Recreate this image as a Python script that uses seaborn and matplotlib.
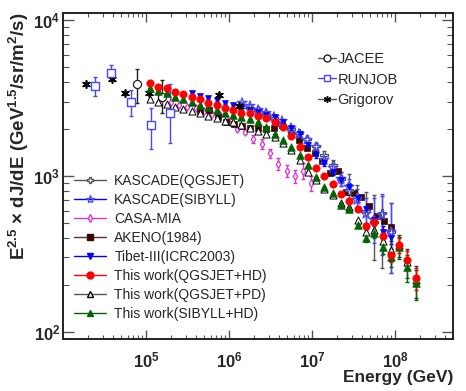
import numpy as np
import pandas as pd
import matplotlib
matplotlib.use("Agg")
import matplotlib.pyplot as plt
from matplotlib.lines import Line2D
import seaborn as sns

# ---------------- data ----------------
# This work: energies every 0.1 decade from 10^5.05 to 10^8.25 GeV
work_E = [1.122e5, 1.413e5, 1.778e5, 2.239e5, 2.818e5, 3.548e5, 4.467e5, 5.623e5, 7.079e5, 8.913e5,
          1.122e6, 1.413e6, 1.778e6, 2.239e6, 2.818e6, 3.548e6, 4.467e6, 5.623e6, 7.079e6, 8.913e6,
          1.122e7, 1.413e7, 1.778e7, 2.239e7, 2.818e7, 3.548e7, 4.467e7, 5.623e7, 7.079e7, 8.913e7,
          1.122e8, 1.413e8, 1.778e8]
qgs_hd = [3950, 3720, 3670, 3460, 3350, 3210, 3120, 2940, 2850, 2730,
          2650, 2530, 2530, 2420, 2350, 2220, 2060, 1800, 1530, 1320,
          1120, 1000, 890, 770, 690, 610, 480, 510, 410, 310,
          360, 290, 220]
qgs_hd_err = [0] * 26 + [15, 20, 25, 30, 40, 40, 35]
qgs_pd = [3120, 2980, 2890, 2770, 2690, 2610, 2530, 2420, 2350, 2250,
          2220, 2120, 2030, 1940, 1860, 1780, 1630, 1470, 1270, 1060,
          940, 830, 755, 670, 630, 520, 440, 450, 380, 335,
          360, 280, 215]
qgs_pd_err = [0] * 26 + [20, 30, 40, 50, 60, 60, 50]
sib_hd = [3670, 3510, 3400, 3210, 3120, 2980, 2850, 2770, 2650, 2530,
          2460, 2390, 2320, 2220, 2060, 1860, 1700, 1530, 1360, 1180,
          985, 850, 780, 650, 610, 485, 400, 430, 350, 300,
          350, 260, 205]
sib_hd_err = [0] * 26 + [25, 30, 35, 40, 55, 50, 45]

tibet_E = work_E[5:30]
tibet_F = [3400, 3260, 3160, 3070, 2940, 2850, 2730, 2650, 2570, 2460,
           2390, 2220, 2030, 1860, 1580, 1360, 1210, 1060, 940, 850,
           720, 610, 520, 440, 400]
tibet_err = [60, 60, 60, 60, 60, 60, 60, 60, 60, 60,
             60, 60, 60, 60, 60, 60, 50, 50, 45, 45,
             40, 35, 35, 35, 35]

grig_E = [1.89e4, 3.9e4, 5.6e4, 1.09e5, 7.6e5, 1.32e6]
grig_F = [3890, 4190, 3400, 3400, 3300, 2810]

runjob_E = [2.43e4, 3.79e4, 6.6e4, 1.15e5, 1.95e5]
runjob_F = [3780, 4570, 2980, 2120, 2540]
runjob_lo = [3260, 4120, 2430, 1490, 1620]
runjob_hi = [4310, 5150, 3560, 2730, 3890]

jacee_E = [7.8e4, 1.56e5]
jacee_F = [3890, 3200]
jacee_lo = [2940, 2540]
jacee_hi = [4850, 4120]

casa_E = [1.56e5, 2.0e5, 2.5e5, 3.12e5, 4.0e5, 5.0e5, 6.24e5, 7.8e5, 9.7e5, 1.25e6,
          1.56e6, 1.95e6, 2.5e6, 3.12e6, 3.9e6, 5.0e6, 6.24e6, 7.8e6, 9.8e6]
casa_F = [3120, 2980, 2850, 2770, 2730, 2610, 2500, 2460, 2250, 2000,
          1910, 1730, 1600, 1400, 1190, 1080, 1000, 1080, 900]
casa_err = [30, 30, 30, 30, 30, 30, 40, 40, 40, 50,
            50, 100, 115, 100, 105, 95, 100, 125, 105]

akeno_E = [4.48e5, 5.74e5, 7.36e5, 9.2e5, 1.15e6, 1.44e6, 1.79e6, 2.24e6, 2.79e6, 3.48e6,
           4.35e6, 5.59e6, 6.97e6, 8.7e6, 1.09e7, 1.32e7, 1.65e7, 2.06e7, 2.57e7, 3.21e7,
           3.89e7, 4.86e7, 6.07e7, 7.36e7, 8.96e7]
akeno_F = [2610, 2650, 2390, 2220, 2150, 2090, 2030, 2030, 2000, 2030,
           2120, 1890, 1700, 1510, 1400, 1250, 1045, 1080, 790, 780,
           730, 640, 555, 515, 470]

kas_E = [1.44e6, 1.79e6, 2.24e6, 2.79e6, 3.48e6, 4.35e6, 5.59e6, 6.97e6, 8.7e6, 1.12e7,
         1.40e7, 1.79e7, 2.24e7, 2.79e7, 3.48e7, 4.48e7, 5.58e7, 6.97e7, 8.96e7]
kas_qgs = [2770, 2730, 2650, 2500, 2350, 2120, 2000, 1890, 1730, 1557,
           1360, 1176, 957, 813, 733, 597, 507, 579, 437]
kas_qgs_lo = [60, 60, 60, 60, 60, 60, 60, 60, 60, 70,
              80, 90, 100, 90, 120, 97, 217, 322, 198]
kas_qgs_hi = [60, 60, 60, 60, 60, 60, 60, 60, 60, 70,
              80, 90, 110, 217, 140, 193, 248, 166, 234]
kas_sib = [2940, 2810, 2650, 2530, 2390, 2250, 2030, 1860, 1700, 1530,
           1267, 1125, 957, 850, 702, 571, 522, 562, 437]
kas_sib_lo = [60, 60, 60, 60, 60, 60, 60, 60, 60, 70,
              80, 90, 90, 100, 110, 120, 150, 250, 200]
kas_sib_hi = [60, 60, 60, 60, 60, 60, 60, 60, 60, 70,
              80, 90, 100, 110, 120, 150, 200, 200, 230]

# ---------------- style ----------------
sns.set_style("ticks")
plt.rcParams['font.family'] = ['Liberation Sans', 'DejaVu Sans']
plt.rcParams['mathtext.fontset'] = 'custom'
plt.rcParams['mathtext.rm'] = 'Liberation Sans'
plt.rcParams['mathtext.bf'] = 'Liberation Sans:bold'
plt.rcParams['mathtext.default'] = 'bf'

fig = plt.figure(figsize=(4.66, 3.91), dpi=100)
ax = fig.add_axes([63 / 466, 52 / 391, 390 / 466, 326 / 391])
ax.set_xscale("log")
ax.set_yscale("log")

# colours
RED = "#ff0000"
GREEN = "#006400"
BLUE = "#0000ff"
LBLUE = "#4848ff"
MAG = "#dd33cc"
BROWN = "#3a0606"
GRAY = "#555555"


def errs(E, F, lo, hi, color, lw=1.0, cap=1.5):
    F = np.array(F, float)
    ax.errorbar(E, F, yerr=[np.array(lo, float), np.array(hi, float)], fmt="none",
                ecolor=color, elinewidth=lw, capsize=cap, zorder=2)


def pts(E, F, marker, size, face, edge, lw=1.0, z=3):
    df = pd.DataFrame({"E": E, "F": F})
    sns.scatterplot(data=df, x="E", y="F", marker=marker, s=size, color=edge,
                    facecolor=face, edgecolor=edge, linewidth=lw, ax=ax, zorder=z,
                    legend=False)


# error bars
errs(casa_E, casa_F, casa_err, casa_err, MAG)
errs(kas_E, kas_qgs, kas_qgs_lo, kas_qgs_hi, GRAY)
errs(kas_E, kas_sib, kas_sib_lo, kas_sib_hi, LBLUE)
errs(tibet_E, tibet_F, tibet_err, tibet_err, BLUE)
errs(work_E, qgs_pd, qgs_pd_err, qgs_pd_err, "#333333")
errs(work_E, sib_hd, sib_hd_err, sib_hd_err, GREEN)
errs(work_E, qgs_hd, qgs_hd_err, qgs_hd_err, RED)
errs(runjob_E, runjob_F, np.array(runjob_F) - np.array(runjob_lo),
     np.array(runjob_hi) - np.array(runjob_F), LBLUE)
errs(jacee_E, jacee_F, np.array(jacee_F) - np.array(jacee_lo),
     np.array(jacee_hi) - np.array(jacee_F), "#222222")

# markers
pts(casa_E, casa_F, "d", 14, "white", MAG, 0.9)
pts(akeno_E, akeno_F, "s", 16, BROWN, BROWN, 0.5)
pts(kas_E, kas_qgs, "P", 36, "white", GRAY, 0.9)
pts(kas_E, kas_sib, "*", 55, "none", LBLUE, 0.9)
pts(tibet_E, tibet_F, "v", 18, BLUE, BLUE, 0.5)
pts(work_E, qgs_pd, "^", 26, "white", "black", 0.7)
pts(work_E, sib_hd, "^", 30, GREEN, GREEN, 0.5, z=4)
pts(work_E, qgs_hd, "o", 28, RED, RED, 0.5, z=5)
pts(grig_E, grig_F, (6, 2, 0), 28, "black", "black", 1.2)
pts(runjob_E, runjob_F, "s", 36, "white", LBLUE, 1.0)
pts(jacee_E, jacee_F, "o", 34, "white", "#222222", 0.9)

# axes
ax.set_xlim(1e4, 5.0e8)
ax.set_ylim(90, 1.11e4)
for s in ax.spines.values():
    s.set_linewidth(1.4)
    s.set_color("#222222")
ax.tick_params(which="both", direction="in", top=True, right=True, color="#555555")
ax.tick_params(axis="x", which="major", length=6.5, width=1.0, labelsize=12, pad=8)
ax.tick_params(axis="x", which="minor", length=3.2, width=0.8)
ax.tick_params(axis="y", which="major", length=8, width=1.0, labelsize=12, pad=2)
ax.tick_params(axis="y", which="minor", length=4.3, width=0.8)
ax.set_xticks([1e5, 1e6, 1e7, 1e8])
ax.set_xticklabels([r"$10^{5}$", r"$10^{6}$", r"$10^{7}$", r"$10^{8}$"])
ax.set_yticks([1e2, 1e3, 1e4])
ax.set_yticklabels([r"$10^{2}$", r"$10^{3}$", r"$10^{4}$"])

ax.set_xlabel("Energy (GeV)", fontsize=12.5, fontweight="bold", loc="right", labelpad=0)
ax.set_ylabel(r"E$^{2.5}$ $\times$ dJ/dE (GeV$^{1.5}$/sr/m$^{2}$/s)", fontsize=13.5,
              fontweight="bold", loc="top")
ax.yaxis.set_label_coords(-0.082, 1.0)

# legends
def h(marker, face, edge, line, ms=6):
    return Line2D([], [], color=line, marker=marker, markerfacecolor=face,
                  markeredgecolor=edge, markersize=ms, linewidth=1.0)

top_handles = [h("o", "white", "#222222", GRAY, 5),
               h("s", "white", LBLUE, LBLUE, 5),
               h((6, 2, 0), "black", "black", GRAY, 5)]
top_labels = ["JACEE", "RUNJOB", "Grigorov"]
leg1 = fig.legend(top_handles, top_labels, loc="upper left",
                  bbox_to_anchor=(318 / 466, 1 - 52 / 391), frameon=False,
                  fontsize=10.5, handlelength=1.2, handletextpad=0.15,
                  labelspacing=0.45, borderpad=0, borderaxespad=0)

low_handles = [h("P", "white", GRAY, GRAY, 5),
               h("*", "none", LBLUE, BLUE, 6),
               h("d", "white", MAG, MAG, 4),
               h("s", BROWN, BROWN, "#5a3030", 4),
               h("v", BLUE, BLUE, BLUE, 4),
               h("o", RED, RED, RED, 5),
               h("^", "white", "black", GRAY, 5),
               h("^", GREEN, GREEN, GREEN, 5)]
low_labels = ["KASCADE(QGSJET)", "KASCADE(SIBYLL)", "CASA-MIA", "AKENO(1984)",
              "Tibet-III(ICRC2003)", "This work(QGSJET+HD)", "This work(QGSJET+PD)",
              "This work(SIBYLL+HD)"]
leg2 = fig.legend(low_handles, low_labels, loc="upper left",
                  bbox_to_anchor=(74 / 466, 1 - 174 / 391), frameon=False,
                  fontsize=10, handlelength=2.3, handletextpad=0.6,
                  labelspacing=0.36, borderpad=0, borderaxespad=0)

fig.savefig("out.png", dpi=100)
